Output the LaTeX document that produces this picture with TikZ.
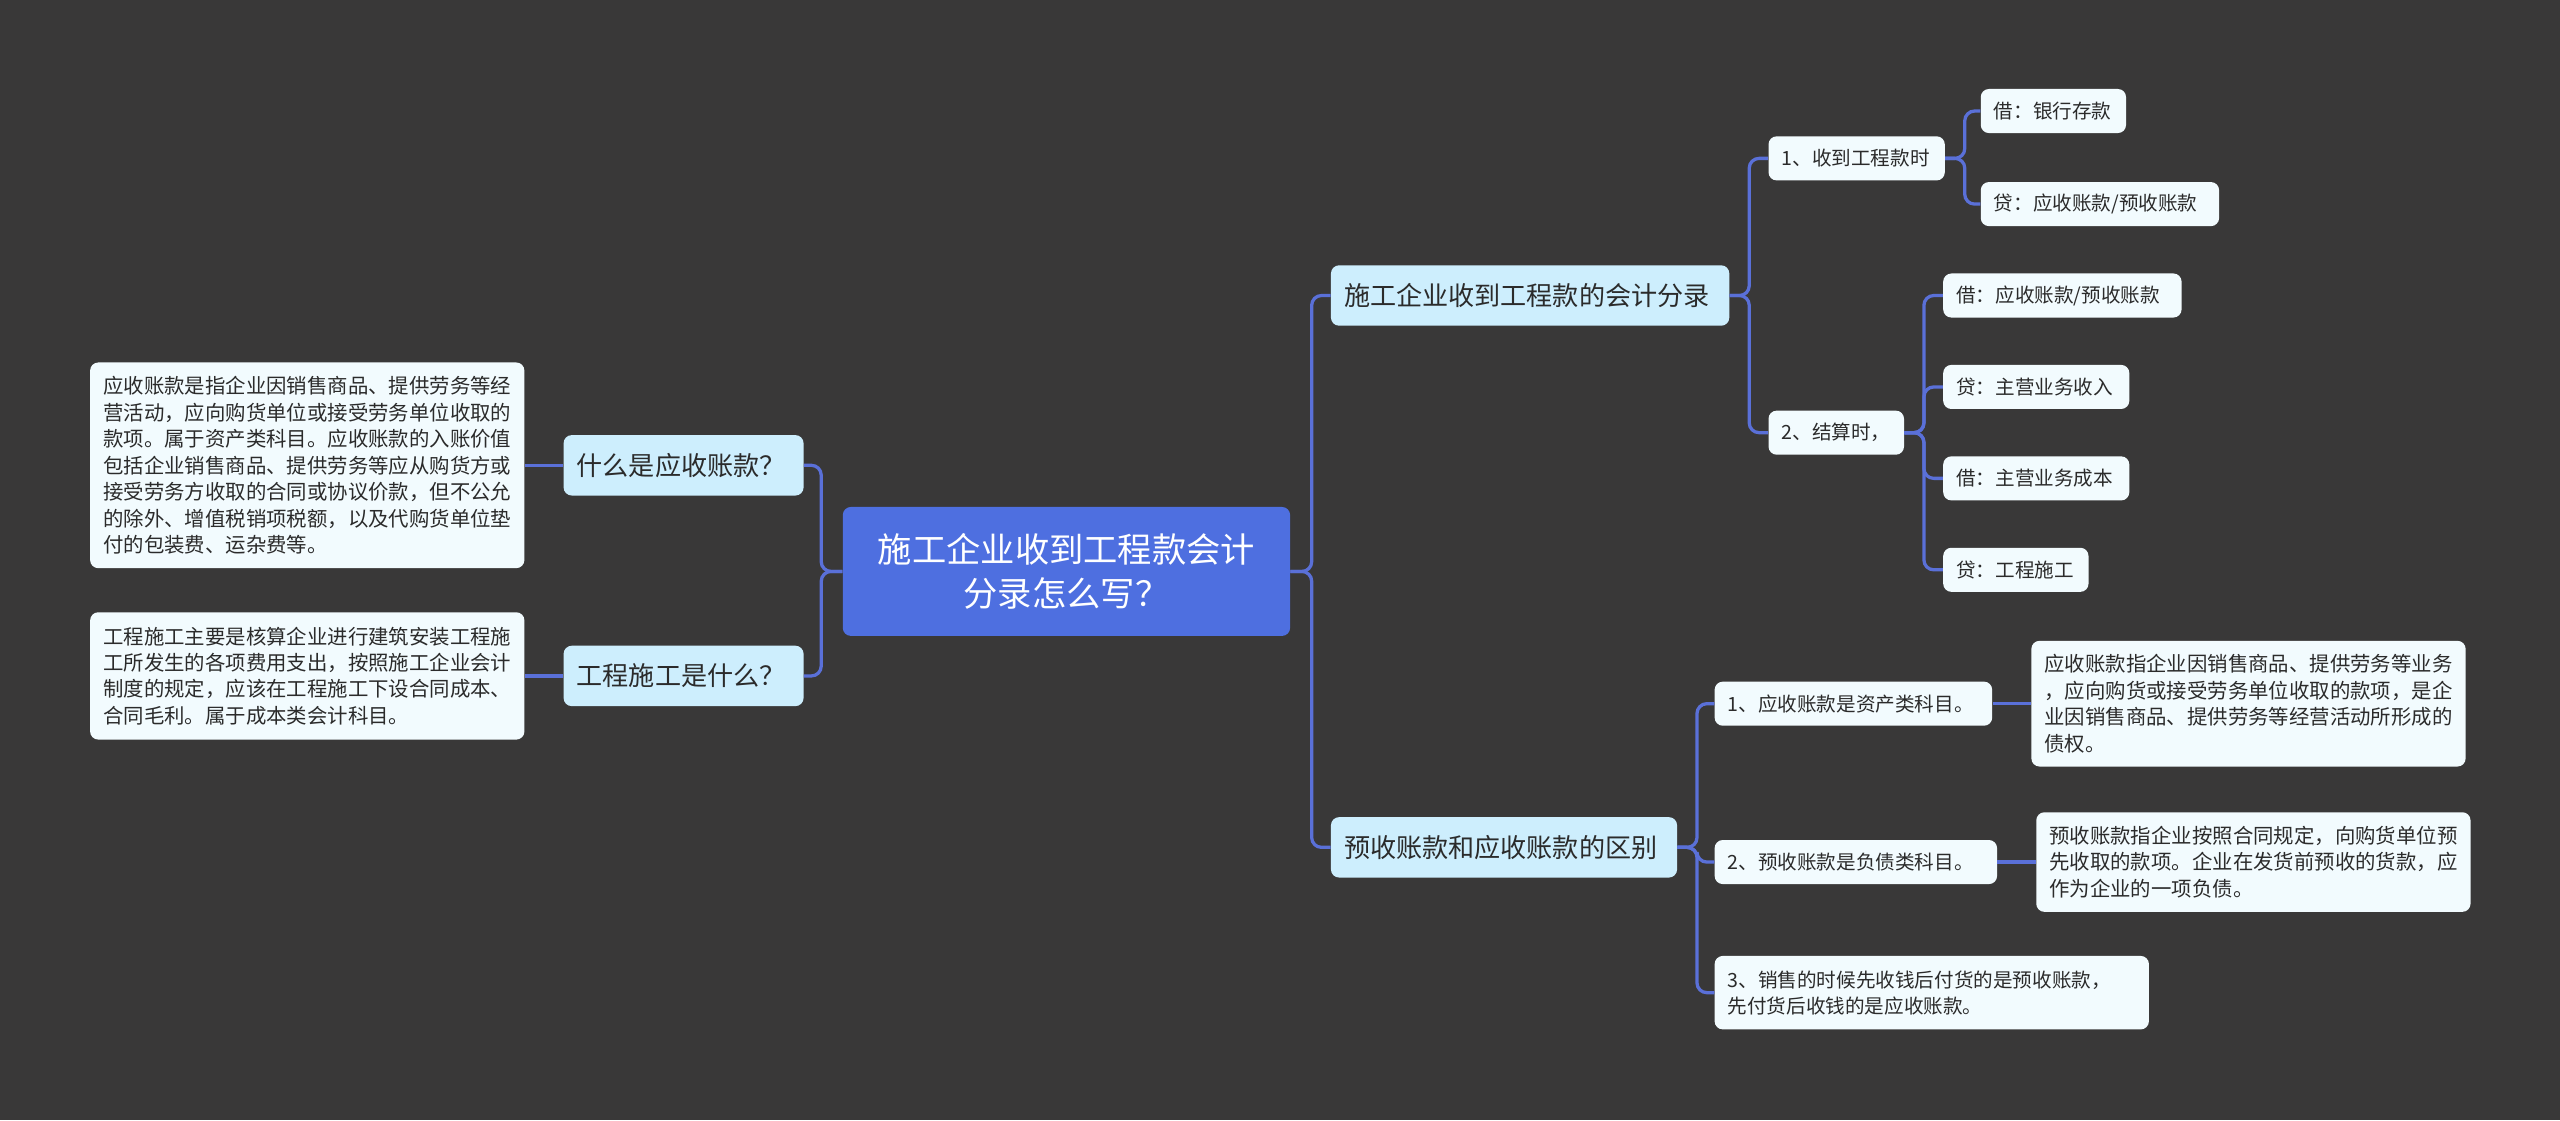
\documentclass[tikz,border=0pt]{standalone}
\usepackage{fontspec}
\setmainfont{Noto Sans CJK SC}
\definecolor{bg}{HTML}{393838}
\definecolor{linkblue}{HTML}{5A70D8}
\definecolor{rootblue}{HTML}{4E6FE0}
\definecolor{topicblue}{HTML}{CDEEFD}
\definecolor{leafwhite}{HTML}{F2FBFE}
\definecolor{ink}{HTML}{2B2B2B}
\begin{document}
\begin{tikzpicture}[x=1pt,y=-1pt,
  box/.style={anchor=west,rounded corners=5pt,text=ink,align=left,inner xsep=8pt,inner ysep=0pt},
  rootbox/.style={box,fill=rootblue,text=white,align=center,inner xsep=10pt,font=\fontsize{21}{27}\selectfont},
  topic/.style={box,fill=topicblue,minimum height=37pt,font=\fontsize{16}{20}\selectfont},
  sub/.style={box,fill=leafwhite,minimum height=27pt,font=\fontsize{12}{16}\selectfont},
  leaf/.style={box,fill=leafwhite,font=\fontsize{12.5}{16.2}\selectfont},
  link/.style={draw=linkblue,line width=2pt,rounded corners=6pt}]
\fill[bg] (0,0) rectangle (1568,686);
\node[rootbox,text width=254pt,minimum height=79pt] (root) at (516,350) {施工企业收到工程款会计\\分录怎么写？};
\node[topic,text width=131pt] (q1) at (345,285) {什么是应收账款？};
\node[topic,text width=131pt] (q2) at (345,414) {工程施工是什么？};
\node[leaf,text width=250pt,minimum height=126pt] (l1) at (55,285) {应收账款是指企业因销售商品、提供劳务等经\\营活动，应向购货单位或接受劳务单位收取的\\款项。属于资产类科目。应收账款的入账价值\\包括企业销售商品、提供劳务等应从购货方或\\接受劳务方收取的合同或协议价款，但不公允\\的除外、增值税销项税额，以及代购货单位垫\\付的包装费、运杂费等。};
\node[leaf,text width=250pt,minimum height=78pt] (l2) at (55,414) {工程施工主要是核算企业进行建筑安装工程施\\工所发生的各项费用支出，按照施工企业会计\\制度的规定，应该在工程施工下设合同成本、\\合同毛利。属于成本类会计科目。};
\node[topic,text width=228pt] (t1) at (815,181) {施工企业收到工程款的会计分录};
\node[topic,text width=196pt] (t2) at (815,519) {预收账款和应收账款的区别};
\node[sub,text width=92pt] (a1) at (1083,97) {1、收到工程款时};
\node[sub,text width=67pt] (a2) at (1083,265) {2、结算时，};
\node[sub,text width=73pt] (b1) at (1213,68) {借：银行存款};
\node[sub,text width=130pt] (b2) at (1213,125) {贷：应收账款/预收账款};
\node[sub,text width=130pt] (c1) at (1190,181) {借：应收账款/预收账款};
\node[sub,text width=98pt] (c2) at (1190,237) {贷：主营业务收入};
\node[sub,text width=98pt] (c3) at (1190,293) {借：主营业务成本};
\node[sub,text width=73pt] (c4) at (1190,349) {贷：工程施工};
\node[sub,text width=154pt] (d1) at (1050,431) {1、应收账款是资产类科目。};
\node[sub,text width=157pt] (d2) at (1050,528) {2、预收账款是负债类科目。};
\node[sub,text width=250pt,minimum height=45pt] (d3) at (1050,608) {3、销售的时候先收钱后付货的是预收账款，\\先付货后收钱的是应收账款。};
\node[leaf,text width=250pt,minimum height=77pt] (e1) at (1244,431) {应收账款指企业因销售商品、提供劳务等业务\\，应向购货或接受劳务单位收取的款项，是企\\业因销售商品、提供劳务等经营活动所形成的\\债权。};
\node[leaf,text width=250pt,minimum height=61pt] (e2) at (1247,528) {预收账款指企业按照合同规定，向购货单位预\\先收取的款项。企业在发货前预收的货款，应\\作为企业的一项负债。};
\foreach \q in {q1,q2} \draw[link] (root.west) -- ++(-13,0) |- (\q.east);
\draw[link] (q1.west) -- (l1.east);
\draw[link] (q2.west) -- (l2.east);
\foreach \t in {t1,t2} \draw[link] (root.east) -- ++(13,0) |- (\t.west);
\foreach \s in {a1,a2} \draw[link] (t1.east) -- ++(12,0) |- (\s.west);
\foreach \s in {b1,b2} \draw[link] (a1.east) -- ++(12,0) |- (\s.west);
\foreach \s in {c1,c2,c3,c4} \draw[link] (a2.east) -- ++(12,0) |- (\s.west);
\foreach \s in {d1,d2,d3} \draw[link] (t2.east) -- ++(12,0) |- (\s.west);
\draw[link] (d1.east) -- (e1.west);
\draw[link] (d2.east) -- (e2.west);
\end{tikzpicture}
\end{document}
